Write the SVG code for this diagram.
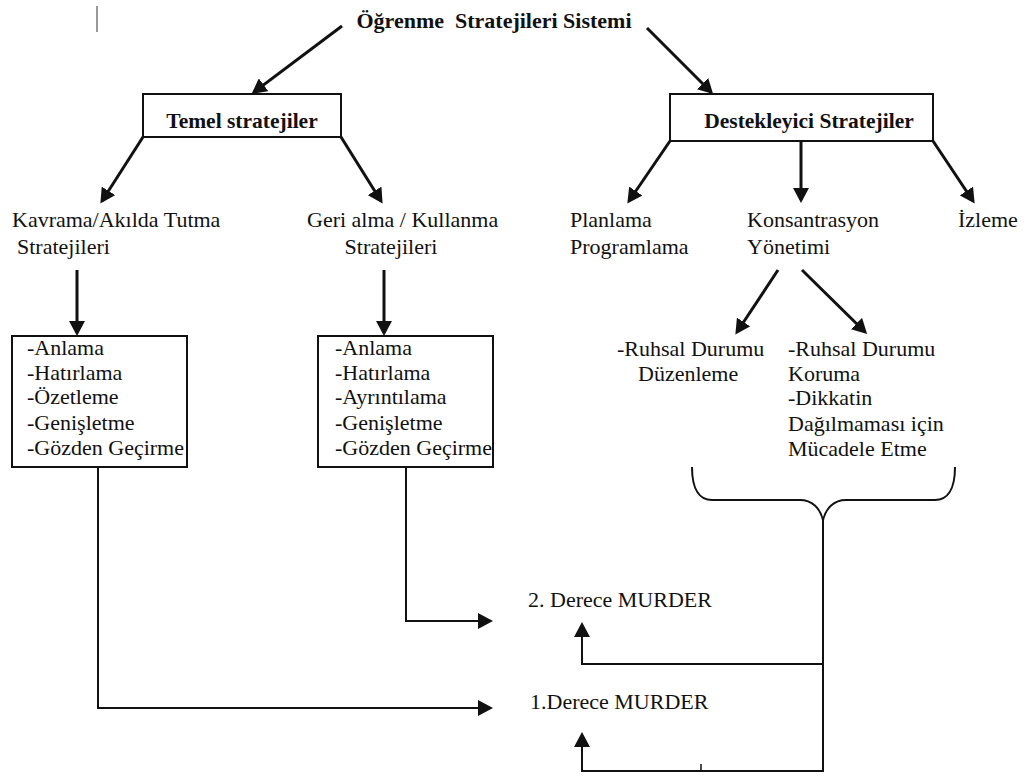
<svg xmlns="http://www.w3.org/2000/svg" width="1032" height="776" viewBox="0 0 1032 776">
<style>
text{font-family:"Liberation Serif",serif;font-size:22px;fill:#111}
.b{font-weight:bold}
.box{fill:#fff;stroke:#111;stroke-width:2}
.a{fill:none;stroke:#111;stroke-width:3}
.l{fill:none;stroke:#111;stroke-width:2}
</style>
<defs>
<marker id="ah" viewBox="0 0 15 16" refX="12" refY="8" markerWidth="15" markerHeight="16" orient="auto" markerUnits="userSpaceOnUse"><path d="M0,0 L15,8 L0,16 z" fill="#111"/></marker>
</defs>
<rect width="1032" height="776" fill="#fff"/>
<line x1="97" y1="6" x2="97" y2="32" stroke="#777" stroke-width="1.5"/>
<g id="title"><text class="b" x="494" y="28" text-anchor="middle" xml:space="preserve">Öğrenme  Stratejileri Sistemi</text></g>
<g id="temel"><rect class="box" x="143" y="94" width="198" height="43"/><text class="b" x="242" y="128" text-anchor="middle" style="font-size:21.5px">Temel stratejiler</text></g>
<g id="destek"><rect class="box" x="670" y="94" width="263" height="47"/><text class="b" x="809" y="128" text-anchor="middle" style="font-size:21.5px">Destekleyici Stratejiler</text></g>
<g id="kavrama"><text x="12" y="227">Kavrama/Akılda Tutma</text><text x="17" y="254">Stratejileri</text></g>
<g id="gerialma"><text x="307" y="227">Geri alma / Kullanma</text><text x="391" y="254" text-anchor="middle">Stratejileri</text></g>
<g id="planlama"><text x="570" y="227">Planlama</text><text x="570" y="254">Programlama</text></g>
<g id="konsantrasyon"><text x="747" y="227">Konsantrasyon</text><text x="747" y="254">Yönetimi</text></g>
<g id="izleme"><text x="958" y="227">İzleme</text></g>
<g id="list1"><rect class="box" x="12" y="336" width="175" height="131"/>
<text x="27" y="355">-Anlama</text><text x="27" y="380">-Hatırlama</text><text x="27" y="404">-Özetleme</text><text x="27" y="430">-Genişletme</text><text x="27" y="455">-Gözden Geçirme</text></g>
<g id="list2"><rect class="box" x="318" y="336" width="175" height="131"/>
<text x="335" y="355">-Anlama</text><text x="335" y="380">-Hatırlama</text><text x="335" y="404">-Ayrıntılama</text><text x="335" y="430">-Genişletme</text><text x="335" y="455">-Gözden Geçirme</text></g>
<g id="ruhsal1"><text x="617" y="356">-Ruhsal Durumu</text><text x="638" y="381">Düzenleme</text></g>
<g id="ruhsal2"><text x="788" y="356">-Ruhsal Durumu</text><text x="788" y="381">Koruma</text><text x="788" y="405">-Dikkatin</text><text x="788" y="431">Dağılmaması için</text><text x="788" y="456">Mücadele Etme</text></g>
<g id="murder2"><text x="528" y="607">2. Derece MURDER</text></g>
<g id="murder1"><text x="530" y="709">1.Derece MURDER</text></g>
<g id="connectors">
<line class="a" x1="342" y1="26" x2="254" y2="92" marker-end="url(#ah)"/>
<line class="a" x1="647" y1="28" x2="711" y2="92" marker-end="url(#ah)"/>
<line class="a" x1="143" y1="137" x2="102" y2="201" marker-end="url(#ah)"/>
<line class="a" x1="341" y1="137" x2="381" y2="201" marker-end="url(#ah)"/>
<line class="a" x1="670" y1="141" x2="629" y2="201" marker-end="url(#ah)"/>
<line class="a" x1="801" y1="141" x2="801" y2="200" marker-end="url(#ah)"/>
<line class="a" x1="933" y1="141" x2="973" y2="201" marker-end="url(#ah)"/>
<line class="a" x1="77" y1="270" x2="77" y2="333" marker-end="url(#ah)"/>
<line class="a" x1="384" y1="270" x2="384" y2="333" marker-end="url(#ah)"/>
<line class="a" x1="778" y1="270" x2="737" y2="332" marker-end="url(#ah)"/>
<line class="a" x1="802" y1="270" x2="865" y2="332" marker-end="url(#ah)"/>
<path class="l" d="M692,467 C692,490 700,500 712,500 L800,500 C812,500 820,508 823,520 C826,508 834,500 846,500 L935,500 C947,500 955,490 955,467"/>
<line class="l" x1="823" y1="518" x2="823" y2="772"/>
<path class="l" d="M406,467 L406,621 L490,621" marker-end="url(#ah)"/>
<path class="l" d="M98,467 L98,708 L490,708" marker-end="url(#ah)"/>
<path class="l" d="M823,664 L582,664 L582,625" marker-end="url(#ah)"/>
<path class="l" d="M823,771 L582,771 L582,735" marker-end="url(#ah)"/>
<line x1="701" y1="764" x2="701" y2="771" stroke="#111" stroke-width="1.5"/>
</g>
</svg>
